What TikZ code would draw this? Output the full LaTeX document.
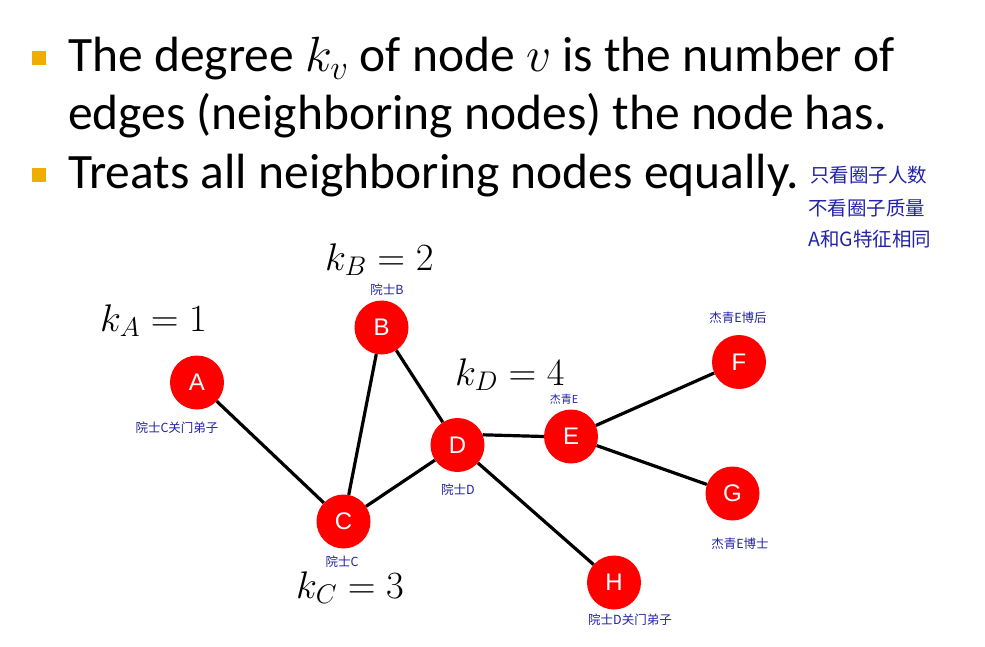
\documentclass[tikz,border=0pt]{standalone}
\usepackage{fix-cm}
\usepackage{fontspec}
\setmainfont{Carlito}
\newfontfamily\nodefont{Liberation Sans}
\newfontfamily\cjk{Noto Sans CJK SC}
\definecolor{bulletorange}{RGB}{240,172,0}
\definecolor{inkblue}{RGB}{35,35,165}
\definecolor{nodered}{RGB}{255,0,0}
\begin{document}
\begin{tikzpicture}[x=1pt,y=-1pt,
  vtx/.style={circle,fill=nodered,minimum size=54pt,inner sep=0pt,text=white,font=\nodefont\fontsize{24}{24}\selectfont},
  edge/.style={line width=3.2pt,black},
  note/.style={text=inkblue,font=\cjk\fontsize{12.5}{13}\selectfont,inner sep=0pt},
  annot/.style={text=inkblue,font=\cjk\fontsize{19.5}{20}\selectfont,inner sep=0pt,anchor=base west},
  deg/.style={font=\fontsize{38.5}{40}\selectfont,inner sep=0pt,anchor=base west},
  bul/.style={fill=bulletorange,minimum size=14pt,inner sep=0pt},
  txt/.style={font=\fontsize{49.5}{50}\selectfont,inner sep=0pt,anchor=base west}]
\useasboundingbox (0,0) rectangle (985,647);
% bullets and text
\node[bul] (b1) at (39,58) {};
\node[bul] (b3) at (39,175) {};
\node[txt] (t1) at (68,72) {The degree $k_v$ of node $v$ is the number of};
\node[txt] (t2) at (68,130) {edges (neighboring nodes) the node has.};
\node[txt] (t3) at (68,189) {Treats all neighboring nodes equally.};
% annotations
\node[annot] (n1) at (810,183) {只看圈子人数};
\node[annot] (n2) at (808,216) {不看圈子质量};
\node[annot] (n3) at (808,247) {A和G特征相同};
% vertices
\node[vtx] (A) at (197,382.5) {A};
\node[vtx] (B) at (381.5,327.5) {B};
\node[vtx] (C) at (343.5,521.5) {C};
\node[vtx] (D) at (457.5,445) {D};
\node[vtx] (E) at (571,436.5) {E};
\node[vtx] (F) at (739,362) {F};
\node[vtx] (G) at (732.5,493.5) {G};
\node[vtx] (H) at (614,582.5) {H};
% edges
\draw[edge] (A) -- (C);
\draw[edge] (B) -- (C);
\draw[edge] (B) -- (D);
\draw[edge] (C) -- (D);
\draw[edge] (D.22) -- (E.west);
\draw[edge] (D) -- (H);
\draw[edge] (E) -- (F);
\draw[edge] (E) -- (G);
% small labels
\node[note] (lA) at (177,428) {院士C关门弟子};
\node[note] (lB) at (387,290) {院士B};
\node[note] (lC) at (342,562) {院士C};
\node[note] (lD) at (458,490) {院士D};
\node[note,font=\cjk\fontsize{11}{11}\selectfont] (lE) at (564,399) {杰青E};
\node[note] (lF) at (738,318) {杰青E博后};
\node[note] (lG) at (740,544) {杰青E博士};
\node[note] (lH) at (630,620) {院士D关门弟子};
% degrees
\node[deg] (kA) at (100,331) {$k_A = 1$};
\node[deg] (kB) at (325,270) {$k_B = 2$};
\node[deg] (kD) at (455,385) {$k_D = 4$};
\node[deg] (kC) at (296,598) {$k_C = 3$};
\end{tikzpicture}
\end{document}
